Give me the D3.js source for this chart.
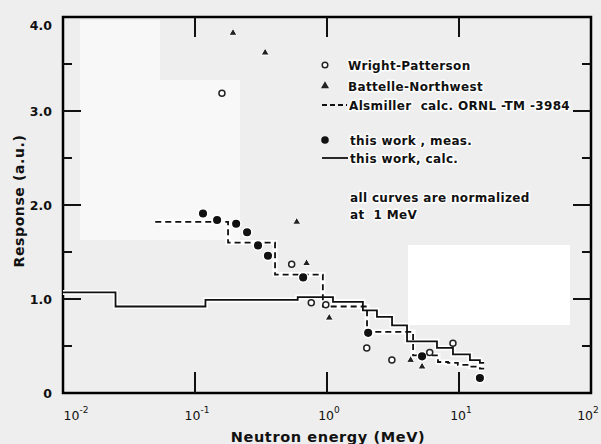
<!DOCTYPE html>
<html>
<head>
<meta charset="utf-8">
<script src="https://cdn.jsdelivr.net/npm/d3@7"></script>
<style>
  html, body { margin: 0; padding: 0; background: #eeeeee; }
  svg { display: block; font-family: "DejaVu Sans", "Liberation Sans", sans-serif; font-weight: bold; }
  .halo { paint-order: stroke; stroke: #ffffff; stroke-width: 3px; stroke-linejoin: round; white-space: pre; }
</style>
</head>
<body>
<div id="chart"></div>
<script>
// axis ticks
const xTicks = [0.01, 0.1, 1, 10, 100];
const xTickExponents = ["-2", "-1", "0", "1", "2"];
const yTicks = [0, 1, 2, 3, 4];
const yTickLabels = ["0", "1.0", "2.0", "3.0", "4.0"];
const yMinorTicks = [0.5, 1.5, 2.5, 3.5];

// Wright-Patterson (open circles)
const wpEnergy = [0.16, 0.54, 0.76, 0.98, 2.0, 3.1, 6.0, 9.0];
const wpResponse = [3.19, 1.37, 0.96, 0.94, 0.48, 0.35, 0.43, 0.53];

// Battelle-Northwest (triangles)
const bnwEnergy = [0.194, 0.34, 0.59, 0.70, 1.04, 4.3, 5.25];
const bnwResponse = [3.83, 3.62, 1.82, 1.38, 0.80, 0.35, 0.28];

// this work, meas. (filled circles)
const measEnergy = [0.115, 0.147, 0.205, 0.248, 0.30, 0.357, 0.66, 2.05, 5.25, 14.4];
const measResponse = [1.91, 1.84, 1.80, 1.71, 1.57, 1.46, 1.23, 0.64, 0.39, 0.16];

// Alsmiller calc. ORNL-TM-3984 (dashed histogram, last value repeated at upper edge)
const alsEnergy = [0.05, 0.178, 0.404, 0.93, 2.01, 4.49, 6.93, 8.26, 9.8, 12.1, 14.4, 15.5];
const alsResponse = [1.82, 1.60, 1.26, 0.92, 0.65, 0.40, 0.33, 0.32, 0.30, 0.28, 0.26, 0.26];

// this work, calc. (solid histogram)
const calcEnergy = [0.01, 0.025, 0.12, 0.60, 1.11, 1.87, 2.39, 3.11, 4.04, 6.81, 9.0, 12.1, 14.4, 15.5];
const calcResponse = [1.07, 0.92, 0.99, 1.02, 0.97, 0.88, 0.81, 0.72, 0.55, 0.48, 0.41, 0.35, 0.32, 0.32];

const width = 601, height = 444;
const margin = { top: 17, right: 10, bottom: 51, left: 63 };

const svg = d3.select("#chart").append("svg")
  .attr("width", width)
  .attr("height", height);

// paper patches of the scan
svg.append("rect").attr("x", 80).attr("y", 20).attr("width", 80).attr("height", 220).attr("fill", "#f8f8f8");
svg.append("rect").attr("x", 160).attr("y", 80).attr("width", 80).attr("height", 160).attr("fill", "#f8f8f8");
svg.append("rect").attr("x", 408).attr("y", 245).attr("width", 162).attr("height", 80).attr("fill", "#ffffff");

const x = d3.scaleLog().domain([0.01, 100]).range([margin.left, width - margin.right]);
const y = d3.scaleLinear().domain([0, 4]).range([height - margin.bottom, margin.top]);

const plotLeft = x.range()[0], plotRight = x.range()[1];
const plotBottom = y.range()[0], plotTop = y.range()[1];

// frame
svg.append("rect")
  .attr("x", plotLeft).attr("y", plotTop)
  .attr("width", plotRight - plotLeft).attr("height", plotBottom - plotTop)
  .attr("fill", "none").attr("stroke", "#000").attr("stroke-width", 2.5);

// inward ticks on all four sides
const tickG = svg.append("g").attr("fill", "#111");
const inner = xTicks.slice(1, -1);
tickG.selectAll(".xb").data(inner).join("rect").attr("class", "xb")
  .attr("x", d => x(d) - 1).attr("y", plotBottom - 21).attr("width", 2).attr("height", 21);
tickG.selectAll(".xt").data(inner).join("rect").attr("class", "xt")
  .attr("x", d => x(d) - 1).attr("y", plotTop).attr("width", 2).attr("height", 20);
const yTickMarks = yTicks.slice(1, -1).map(v => [v, 18]).concat(yMinorTicks.map(v => [v, 9]));
tickG.selectAll(".yl").data(yTickMarks).join("rect").attr("class", "yl")
  .attr("x", plotLeft).attr("y", d => y(d[0]) - 1).attr("width", d => d[1]).attr("height", 2);
tickG.selectAll(".yr").data(yTickMarks).join("rect").attr("class", "yr")
  .attr("x", d => plotRight - d[1]).attr("y", d => y(d[0]) - 1).attr("width", d => d[1]).attr("height", 2);

// tick labels
const xl = svg.append("g").selectAll("text")
  .data(xTicks)
  .join("text")
  .attr("x", (d, i) => i === 0 ? x(d) + 13 : i === xTicks.length - 1 ? x(d) - 3 : x(d) + 2)
  .attr("y", plotBottom + 27)
  .attr("text-anchor", "middle")
  .attr("font-size", 12.5)
  .attr("font-weight", "normal")
  .attr("fill", "#111");
xl.append("tspan").text("10");
xl.append("tspan").attr("dy", -7).attr("font-size", 9).text((d, i) => xTickExponents[i]);

svg.append("g").selectAll("text")
  .data(yTicks)
  .join("text")
  .attr("x", plotLeft - 11)
  .attr("y", d => Math.max(y(d), plotTop + 8) + 5)
  .attr("text-anchor", "end")
  .attr("font-size", 12.5)
  .attr("fill", "#111")
  .text((d, i) => yTickLabels[i]);

// axis titles
svg.append("text")
  .attr("x", 328).attr("y", 442)
  .attr("text-anchor", "middle")
  .attr("font-size", 14.5)
  .attr("letter-spacing", 0.6)
  .attr("fill", "#111")
  .text("Neutron energy (MeV)");

svg.append("text")
  .attr("transform", "translate(24,201) rotate(-90)")
  .attr("text-anchor", "middle")
  .attr("font-size", 14)
  .attr("letter-spacing", 0.6)
  .attr("fill", "#111")
  .text("Response (a.u.)");

// histograms
const step = d3.line()
  .x(d => x(d[0]))
  .y(d => y(d[1]))
  .curve(d3.curveStepAfter);

const calcData = calcEnergy.map((e, i) => [e, calcResponse[i]]);
const alsData = alsEnergy.map((e, i) => [e, alsResponse[i]]);

[calcData, alsData].forEach(data => {
  svg.append("path").attr("d", step(data))
    .attr("fill", "none").attr("stroke", "#fff").attr("stroke-width", 5);
});
svg.append("path").attr("d", step(calcData))
  .attr("fill", "none").attr("stroke", "#111").attr("stroke-width", 1.8);
svg.append("path").attr("d", step(alsData))
  .attr("fill", "none").attr("stroke", "#111").attr("stroke-width", 1.8)
  .attr("stroke-dasharray", "6,4");

// markers
svg.append("g").selectAll("circle")
  .data(measEnergy.map((e, i) => [e, measResponse[i]]))
  .join("circle")
  .attr("cx", d => x(d[0])).attr("cy", d => y(d[1]))
  .attr("r", 4.8)
  .attr("fill", "#111").attr("stroke", "#fff").attr("stroke-width", 1.5);

svg.append("g").selectAll("circle")
  .data(wpEnergy.map((e, i) => [e, wpResponse[i]]))
  .join("circle")
  .attr("cx", d => x(d[0])).attr("cy", d => y(d[1]))
  .attr("r", 3)
  .attr("fill", "#fff").attr("stroke", "#222").attr("stroke-width", 1.5);

const tri = d3.symbol().type(d3.symbolTriangle).size(28);
svg.append("g").selectAll("path")
  .data(bnwEnergy.map((e, i) => [e, bnwResponse[i]]))
  .join("path")
  .attr("transform", d => `translate(${x(d[0])},${y(d[1])})`)
  .attr("d", tri)
  .attr("fill", "#222").attr("stroke", "#fff").attr("stroke-width", 1);

// legend
const lg = svg.append("g").attr("font-size", 12).attr("fill", "#111").attr("letter-spacing", 0.35);
lg.append("circle").attr("cx", 325).attr("cy", 65).attr("r", 2.8)
  .attr("fill", "#fff").attr("stroke", "#222").attr("stroke-width", 1.5);
lg.append("text").attr("class", "halo").attr("x", 348).attr("y", 70).text("Wright-Patterson");
lg.append("path").attr("transform", "translate(325,86)").attr("d", tri).attr("fill", "#222");
lg.append("text").attr("class", "halo").attr("x", 348).attr("y", 91).text("Battelle-Northwest");
lg.append("line").attr("x1", 322).attr("x2", 347).attr("y1", 105).attr("y2", 105)
  .attr("stroke", "#111").attr("stroke-width", 1.8).attr("stroke-dasharray", "5,3");
lg.append("text").attr("class", "halo").attr("x", 349).attr("y", 110).text("Alsmiller  calc. ORNL -TM -3984");
lg.append("circle").attr("cx", 325).attr("cy", 140).attr("r", 3.8).attr("fill", "#111");
lg.append("text").attr("class", "halo").attr("x", 350).attr("y", 145).text("this work , meas.");
lg.append("line").attr("x1", 322).attr("x2", 348).attr("y1", 158).attr("y2", 158)
  .attr("stroke", "#111").attr("stroke-width", 1.8);
lg.append("text").attr("class", "halo").attr("x", 350).attr("y", 163).text("this work, calc.");
lg.append("text").attr("class", "halo").attr("x", 350).attr("y", 202).text("all curves are normalized");
lg.append("text").attr("class", "halo").attr("x", 350).attr("y", 219).text("at  1 MeV");
</script>
</body>
</html>
